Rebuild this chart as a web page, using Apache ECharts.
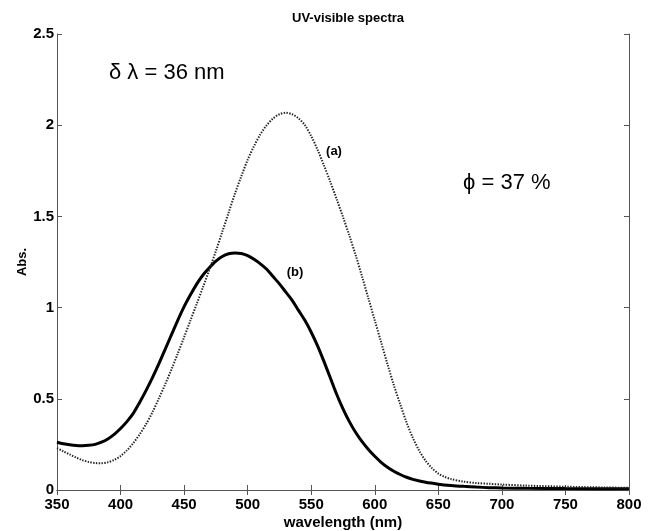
<!DOCTYPE html>
<html>
<head>
<meta charset="utf-8">
<script src="https://cdn.jsdelivr.net/npm/echarts@6/dist/echarts.min.js"></script>
<style>
html,body{margin:0;padding:0;background:#fff;}
#chart{width:648px;height:531px;}
</style>
</head>
<body>
<div id="chart"></div>
<script>
// Spectrum (a): dotted curve
const wavelengthA = [350,355,360,365,370,375,380,385,390,395,400,405,410,415,420,425,430,435,440,445,450,455,460,465,470,475,480,485,490,495,500,505,510,515,520,525,530,535,540,545,550,555,560,565,570,575,580,585,590,595,600,605,610,615,620,625,630,635,640,645,650,655,660,670,680,690,700,720,750,780,800];
const absA = [0.23,0.212,0.195,0.178,0.164,0.154,0.148,0.147,0.152,0.165,0.186,0.217,0.257,0.305,0.36,0.425,0.50,0.578,0.66,0.748,0.838,0.93,1.022,1.115,1.21,1.31,1.415,1.52,1.625,1.72,1.81,1.885,1.95,2.0,2.037,2.06,2.068,2.06,2.038,2.0,1.94,1.865,1.78,1.69,1.595,1.497,1.395,1.287,1.17,1.05,0.93,0.81,0.69,0.575,0.47,0.37,0.285,0.215,0.16,0.12,0.09,0.072,0.06,0.046,0.038,0.034,0.03,0.024,0.018,0.014,0.012];
// Spectrum (b): solid curve
const wavelengthB = [350,355,360,365,370,375,380,385,390,395,400,405,410,415,420,425,430,435,440,445,450,455,460,465,470,475,480,485,490,495,500,505,510,515,520,525,530,535,540,545,550,555,560,565,570,575,580,585,590,595,600,605,610,615,620,625,630,640,650,660,670,680,690,700,720,750,800];
const absB = [0.262,0.254,0.248,0.244,0.243,0.245,0.25,0.262,0.28,0.305,0.337,0.375,0.42,0.48,0.545,0.615,0.69,0.77,0.85,0.93,1.005,1.07,1.13,1.18,1.22,1.255,1.28,1.295,1.30,1.297,1.285,1.265,1.24,1.21,1.17,1.13,1.085,1.04,0.985,0.93,0.865,0.79,0.705,0.615,0.525,0.445,0.375,0.315,0.265,0.222,0.185,0.152,0.125,0.103,0.085,0.07,0.058,0.042,0.032,0.025,0.02,0.016,0.013,0.011,0.009,0.008,0.007];

const chartTitle = 'UV-visible spectra';
const xName = 'wavelength (nm)';
const yName = 'Abs.';
const labelA = '(a)';
const labelB = '(b)';
const noteShift = 'δ λ = 36 nm';
const noteYield = 'ϕ = 37 %';

const FONT = '"Liberation Sans", Arial, Helvetica, sans-serif';
const axisColor = '#555';

const chart = echarts.init(document.getElementById('chart'));
const axisCommon = {
  axisLine: {show: true, lineStyle: {color: axisColor, width: 1}},
  axisTick: {show: true, inside: true, length: 5, lineStyle: {color: axisColor}},
  splitLine: {show: false}
};
chart.setOption({
  animation: false,
  backgroundColor: '#fff',
  title: {
    text: chartTitle, left: 343, top: 7, textAlign: 'center',
    textStyle: {fontFamily: FONT, fontSize: 13, fontWeight: 'bold', color: '#000'}
  },
  grid: {left: 57, right: 19, top: 34, bottom: 41, containLabel: false, outerBoundsMode: 'none'},
  xAxis: [
    Object.assign({
      type: 'value', min: 350, max: 800, interval: 50, position: 'bottom',
      name: xName, nameLocation: 'middle', nameGap: 25, nameMoveOverlap: false,
      nameTextStyle: {fontFamily: FONT, fontSize: 15, fontWeight: 'bold', color: '#000'},
      axisLabel: {fontFamily: FONT, fontSize: 15, fontWeight: 'bold', color: '#000', margin: 7}
    }, axisCommon),
    Object.assign({
      type: 'value', min: 350, max: 800, interval: 50, position: 'top',
      axisLabel: {show: false}
    }, axisCommon)
  ],
  yAxis: [
    Object.assign({
      type: 'value', min: 0, max: 2.5, interval: 0.5, position: 'left',
      name: yName, nameLocation: 'middle', nameGap: 28, nameMoveOverlap: false,
      nameTextStyle: {fontFamily: FONT, fontSize: 13, fontWeight: 'bold', color: '#000'},
      axisLabel: {fontFamily: FONT, fontSize: 15, fontWeight: 'bold', color: '#000', margin: 3}
    }, axisCommon),
    Object.assign({
      type: 'value', min: 0, max: 2.5, interval: 0.5, position: 'right',
      axisLabel: {show: false}
    }, axisCommon)
  ],
  series: [
    {
      type: 'line', name: 'b', xAxisIndex: 0, yAxisIndex: 0,
      data: wavelengthB.map((w, i) => [w, absB[i]]),
      showSymbol: false, smooth: 0.3,
      lineStyle: {color: '#000', width: 3}
    },
    {
      type: 'line', name: 'a', xAxisIndex: 0, yAxisIndex: 0,
      data: wavelengthA.map((w, i) => [w, absA[i]]),
      showSymbol: false, smooth: 0.3,
      lineStyle: {color: '#222', width: 2, type: [1.4, 1.4]}
    }
  ],
  graphic: [
    {type: 'text', x: 109, y: 73, style: {text: noteShift, font: '22px ' + FONT, fill: '#000', verticalAlign: 'middle', align: 'left'}},
    {type: 'text', x: 463, y: 183, style: {text: noteYield, font: '22px ' + FONT, fill: '#000', verticalAlign: 'middle', align: 'left'}},
    {type: 'text', x: 334, y: 151, style: {text: labelA, font: 'bold 13px ' + FONT, fill: '#000', verticalAlign: 'middle', align: 'center'}},
    {type: 'text', x: 295, y: 272, style: {text: labelB, font: 'bold 13px ' + FONT, fill: '#000', verticalAlign: 'middle', align: 'center'}}
  ]
});
</script>
</body>
</html>
